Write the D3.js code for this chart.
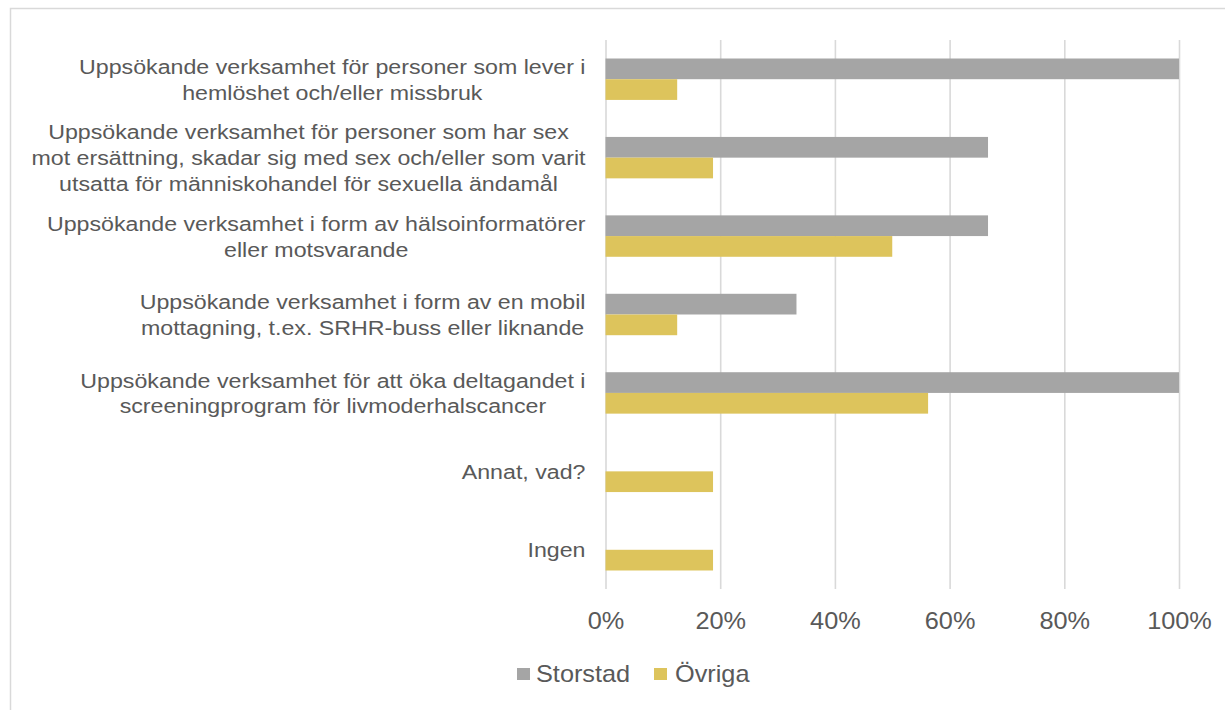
<!DOCTYPE html>
<html><head><meta charset="utf-8">
<script src="https://cdn.jsdelivr.net/npm/d3@7"></script>
<style>
html,body{margin:0;padding:0;background:#fff;}
svg{display:block;font-family:"Liberation Sans",Arial,sans-serif;}
</style></head>
<body>
<svg id="chart" width="1225" height="710"></svg>
<script>
const categories = [
  "Uppsökande verksamhet för personer som lever i\nhemlöshet och/eller missbruk",
  "Uppsökande verksamhet för personer som har sex\nmot ersättning, skadar sig med sex och/eller som varit\nutsatta för människohandel för sexuella ändamål",
  "Uppsökande verksamhet i form av hälsoinformatörer\neller motsvarande",
  "Uppsökande verksamhet i form av en mobil\nmottagning, t.ex. SRHR-buss eller liknande",
  "Uppsökande verksamhet för att öka deltagandet i\nscreeningprogram för livmoderhalscancer",
  "Annat, vad?",
  "Ingen"
];
const seriesNames = ["Storstad", "Övriga"];
const storstad = [100, 66.7, 66.7, 33.3, 100, 0, 0];
const ovriga = [12.5, 18.75, 50, 12.5, 56.25, 18.75, 18.75];
const tickValues = [0, 20, 40, 60, 80, 100];
const colors = ["#A5A5A5", "#DDC45C"];

const svg = d3.select("#chart");
const textColor = "#595959";
const sx = 1.1;

// chart frame
svg.append("rect").attr("x", 10.5).attr("y", 8.5).attr("width", 1240).attr("height", 720)
  .attr("fill", "none").attr("stroke", "#D9D9D9").attr("stroke-width", 1.5);

const pLeft = 605.5, pRight = 1179, pTop = 40, pBottom = 589;
const x = d3.scaleLinear().domain([0, 100]).range([pLeft, pRight]);
const y = d3.scaleBand().domain(d3.range(categories.length)).range([pTop, pBottom])
  .paddingInner(0.472).paddingOuter(0.236);
const ySub = d3.scaleBand().domain([0, 1]).range([0, y.bandwidth()]);

// gridlines
const grid = svg.append("g").attr("transform", `translate(0,${pBottom})`)
  .call(d3.axisBottom(x).tickValues(tickValues).tickSize(-(pBottom - pTop)).tickFormat(""));
grid.select(".domain").remove();
grid.selectAll(".tick line").attr("stroke", "#D9D9D9").attr("stroke-width", 1.6);

// bars
const data = [storstad, ovriga];
const rows = svg.append("g").selectAll("g").data(categories).join("g")
  .attr("transform", (d, i) => `translate(0,${y(i)})`);
rows.selectAll("rect").data((d, i) => data.map((s, k) => ({k, v: s[i]}))).join("rect")
  .attr("x", x(0))
  .attr("y", d => ySub(d.k))
  .attr("width", d => x(d.v) - x(0))
  .attr("height", ySub.bandwidth())
  .attr("fill", d => colors[d.k]);

// x axis labels
const ax = svg.append("g").attr("transform", `translate(0,${pBottom})`)
  .call(d3.axisBottom(x).tickValues(tickValues).tickSize(0).tickPadding(0).tickFormat(d => d + "%"));
ax.select(".domain").remove();
ax.selectAll(".tick text").attr("y", 40).attr("dy", null)
  .attr("fill", textColor).attr("font-size", 23)
  .attr("font-family", '"Liberation Sans", Arial, sans-serif')
  .attr("transform", `scale(${sx},1)`);

// category labels
const labelRight = 585.5, lineH = 26, lfs = 21, lsx = 1.105;
categories.forEach((c, i) => {
  const lines = c.split("\n");
  const cy = y(i) + y.bandwidth() / 2;
  const g = svg.append("g").attr("transform", `translate(${labelRight},${cy}) scale(${lsx},1)`);
  const texts = lines.map((ln, j) => g.append("text")
    .attr("y", (j - (lines.length - 1) / 2) * lineH + lfs * 0.36)
    .attr("font-size", lfs).attr("fill", textColor)
    .attr("text-anchor", "middle").text(ln));
  const maxW = d3.max(texts, t => t.node().getComputedTextLength());
  texts.forEach(t => t.attr("x", -maxW / 2));
});

// legend
const legend = svg.append("g");
const legItems = [{x: 517, tx: 536}, {x: 654, tx: 675}];
seriesNames.forEach((n, k) => {
  legend.append("rect").attr("x", legItems[k].x).attr("y", 668).attr("width", 13).attr("height", 12)
    .attr("fill", colors[k]);
  legend.append("g").attr("transform", `translate(${legItems[k].tx},681.5) scale(${sx},1)`)
    .append("text").attr("font-size", 23).attr("fill", textColor).text(n);
});
</script>
</body></html>
